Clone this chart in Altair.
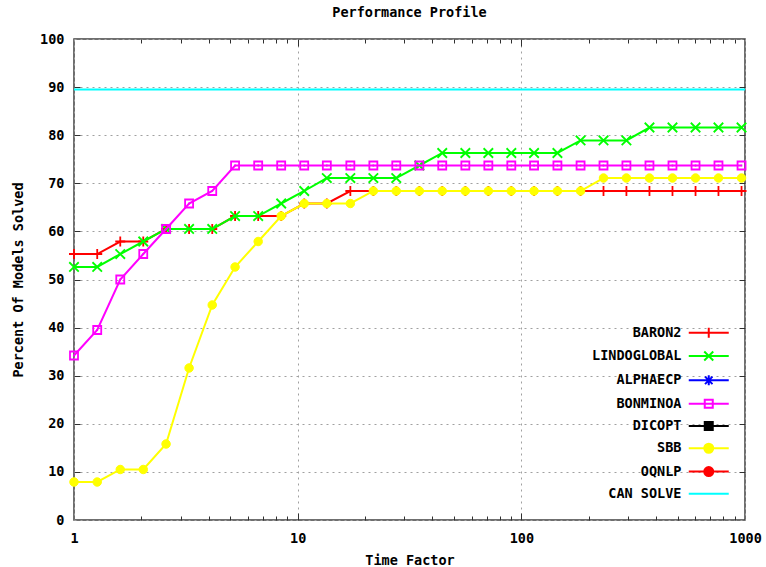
import altair as alt
import pandas as pd

# ---------------- data ----------------
chart_title = "Performance Profile"
x_title = "Time Factor"
y_title = "Percent Of Models Solved"

solvers = ["BARON2", "LINDOGLOBAL", "ALPHAECP", "BONMINOA", "DICOPT", "SBB", "OQNLP", "CAN SOLVE"]
solver_colors = ["#ff0000", "#00ff00", "#0000ff", "#ff00ff", "#000000", "#ffff00", "#ff0000", "#00ffff"]

time_factor = [1, 1.27, 1.61, 2.04, 2.58, 3.27, 4.15, 5.25, 6.66, 8.44,
               10.7, 13.5, 17.2, 21.8, 27.6, 35.0, 44.3, 56.2, 71.2, 90.2,
               114, 145, 184, 233, 295, 374, 474, 601, 761, 965]

baron2 = [55.3, 55.3, 57.9, 57.9, 60.5, 60.5, 60.5, 63.2, 63.2, 63.2,
          65.8, 65.8, 68.4, 68.4, 68.4, 68.4, 68.4, 68.4, 68.4, 68.4,
          68.4, 68.4, 68.4, 68.4, 68.4, 68.4, 68.4, 68.4, 68.4, 68.4]
lindoglobal = [52.6, 52.6, 55.3, 57.9, 60.5, 60.5, 60.5, 63.2, 63.2, 65.8,
               68.4, 71.1, 71.1, 71.1, 71.1, 73.7, 76.3, 76.3, 76.3, 76.3,
               76.3, 76.3, 78.9, 78.9, 78.9, 81.6, 81.6, 81.6, 81.6, 81.6]
bonminoa = [34.2, 39.5, 50.0, 55.3, 60.5, 65.8, 68.4, 73.7, 73.7, 73.7,
            73.7, 73.7, 73.7, 73.7, 73.7, 73.7, 73.7, 73.7, 73.7, 73.7,
            73.7, 73.7, 73.7, 73.7, 73.7, 73.7, 73.7, 73.7, 73.7, 73.7]
sbb = [7.9, 7.9, 10.5, 10.5, 15.8, 31.6, 44.7, 52.6, 57.9, 63.2,
       65.8, 65.8, 65.8, 68.4, 68.4, 68.4, 68.4, 68.4, 68.4, 68.4,
       68.4, 68.4, 68.4, 71.1, 71.1, 71.1, 71.1, 71.1, 71.1, 71.1]
can_solve = [89.5]

x_tick_values = [1, 10, 100, 1000]
x_minor_ticks = [2, 3, 4, 5, 6, 7, 8, 9, 10, 20, 30, 40, 50, 60, 70, 80, 90, 100,
                 200, 300, 400, 500, 600, 700, 800, 900]
y_tick_values = [0, 10, 20, 30, 40, 50, 60, 70, 80, 90, 100]
y_inner_ticks = [10, 20, 30, 40, 50, 60, 70, 80, 90]

# ---------------- styling ----------------
FONT = "DejaVu Sans Mono"
FS = 13.5
W, H = 671, 481
TICK_COLOR = "#303030"

P_PLUS = "M-1,0L1,0M0,-1L0,1"
P_CROSS = "M-1,-1L1,1M-1,1L1,-1"
P_SQUARE = "M-1,-1L1,-1L1,1L-1,1ZM-0.2,0L0.2,0"
P_CIRCLE = "M-1,0A1,1 0 1,0 1,0A1,1 0 1,0 -1,0Z"

LINE = "M-4,0L4,0"
legend_shapes = [
    LINE + "M0,-1L0,1",
    LINE + "M-0.9,-0.9L0.9,0.9M-0.9,0.9L0.9,-0.9",
    LINE + "M0,-1L0,1M-0.75,-0.75L0.75,0.75M-0.75,0.75L0.75,-0.75",
    LINE + "M-0.8,-0.8L0.8,-0.8L0.8,0.8L-0.8,0.8ZM-0.2,0L0.2,0",
    LINE + "M-0.8,-0.8L0.8,-0.8L0.8,0.8L-0.8,0.8Z",
    LINE + "M-0.9,0A0.9,0.9 0 1,0 0.9,0A0.9,0.9 0 1,0 -0.9,0Z",
    LINE + "M-0.9,0A0.9,0.9 0 1,0 0.9,0A0.9,0.9 0 1,0 -0.9,0Z",
    LINE,
]
legend_fills = ["transparent", "transparent", "transparent", "transparent",
                "#000000", "#ffff00", "#ff0000", "transparent"]

x_scale = alt.Scale(type="log", domain=[1, 1000], nice=False)
y_scale = alt.Scale(domain=[0, 100], nice=False)

major_tick = {"condition": {"test": "datum.value == 10 || datum.value == 100", "value": 7}, "value": 4}

# main axes
x_main = alt.X("t:Q", scale=x_scale, axis=alt.Axis(
    values=x_tick_values, format="d", title=x_title, grid=True, ticks=False,
    domain=False, labelPadding=11, titlePadding=9, labelFlush=False))
y_main = alt.Y("p:Q", scale=y_scale, axis=alt.Axis(
    values=y_tick_values, title=y_title, grid=True, ticks=False, domain=False,
    labelPadding=10, titlePadding=14))
# inward tick axes (bottom/left edges)
x_in_bottom = alt.X("t:Q", scale=x_scale, axis=alt.Axis(
    orient="top", offset=-H, values=x_minor_ticks, labels=False, grid=False,
    domain=False, ticks=True, tickSize=major_tick, tickColor=TICK_COLOR, title=None))
y_in_left = alt.Y("p:Q", scale=y_scale, axis=alt.Axis(
    orient="right", offset=-W, values=y_inner_ticks, labels=False, grid=False,
    domain=False, ticks=True, tickSize=6, tickColor=TICK_COLOR, title=None))
# inward tick axes (top/right edges)
x_in_top = alt.X("t:Q", scale=x_scale, axis=alt.Axis(
    orient="bottom", offset=-H, values=x_minor_ticks, labels=False, grid=False,
    domain=False, ticks=True, tickSize=major_tick, tickColor=TICK_COLOR, title=None))
y_in_right = alt.Y("p:Q", scale=y_scale, axis=alt.Axis(
    orient="left", offset=-W, values=y_inner_ticks, labels=False, grid=False,
    domain=False, ticks=True, tickSize=6, tickColor=TICK_COLOR, title=None))
# no axis
x_plain = alt.X("t:Q", scale=x_scale, axis=None)
y_plain = alt.Y("p:Q", scale=y_scale, axis=None)

axis_pairs = [(x_main, y_main), (x_in_bottom, y_in_left), (x_in_top, y_in_right)]


def enc_for(i):
    if i < len(axis_pairs):
        return axis_pairs[i]
    return (x_plain, y_plain)


def series(values, color, shape, size, filled, start):
    df = pd.DataFrame({"t": time_factor, "p": values})
    base = alt.Chart(df)
    xe, ye = enc_for(start)
    line = base.mark_line(color=color, strokeWidth=2).encode(x=xe, y=ye)
    if filled:
        pts = base.mark_point(shape=shape, size=size, fill=color, filled=True,
                              stroke=color, strokeWidth=1, opacity=1)
    else:
        pts = base.mark_point(shape=shape, size=size, color=color, filled=False,
                              strokeWidth=1.8, opacity=1)
    xe, ye = enc_for(start + 1)
    return [line, pts.encode(x=xe, y=ye)]


layers = []
layers += series(baron2, solver_colors[0], P_PLUS, 100, False, 0)
layers += series(lindoglobal, solver_colors[1], P_CROSS, 90, False, 2)
layers += series(bonminoa, solver_colors[3], P_SQUARE, 64, False, 4)
layers += series(sbb, solver_colors[5], P_CIRCLE, 72, True, 6)

can_df = pd.DataFrame({"p": can_solve})
layers.append(alt.Chart(can_df).mark_rule(color=solver_colors[7], strokeWidth=2).encode(y=y_plain))

legend_def = alt.Legend(
    title=None, orient="none", legendX=628, legendY=287,
    labelAlign="right", labelOffset={"expr": "-34"}, labelFont=FONT, labelFontSize=FS,
    labelFontWeight="bold", labelColor="#000000", symbolSize=100,
    symbolStrokeWidth=2, symbolOpacity=1, rowPadding=5.3, padding=0,
    labelLimit=300,
)
legend_df = pd.DataFrame({"solver": solvers})
carrier = alt.Chart(legend_df).mark_point(opacity=0, size=100).encode(
    shape=alt.Shape("solver:N", scale=alt.Scale(domain=solvers, range=legend_shapes), legend=legend_def),
    stroke=alt.Stroke("solver:N", scale=alt.Scale(domain=solvers, range=solver_colors), legend=legend_def),
    fill=alt.Fill("solver:N", scale=alt.Scale(domain=solvers, range=legend_fills), legend=legend_def),
)
layers.append(carrier)

chart = alt.layer(*layers).resolve_axis(
    x="independent", y="independent"
).properties(
    width=W, height=H,
    title=alt.TitleParams(chart_title, font=FONT, fontSize=FS, fontWeight="bold",
                          color="#000000", offset=13, anchor="middle"),
    autosize=alt.AutoSizeParams(type="none"),
    padding={"left": 74, "top": 39, "right": 21, "bottom": 47},
).configure(
    background="#ffffff"
).configure_view(
    stroke="#404040", strokeWidth=1.5
).configure_axis(
    labelFont=FONT, labelFontSize=FS, labelFontWeight="bold", labelColor="#000000",
    titleFont=FONT, titleFontSize=FS, titleFontWeight="bold", titleColor="#000000",
    gridColor="#a0a0a0", gridDash=[2, 4], gridWidth=1, gridOpacity=1,
)

chart.save("out.html", embed_options={"renderer": "svg", "actions": False})
